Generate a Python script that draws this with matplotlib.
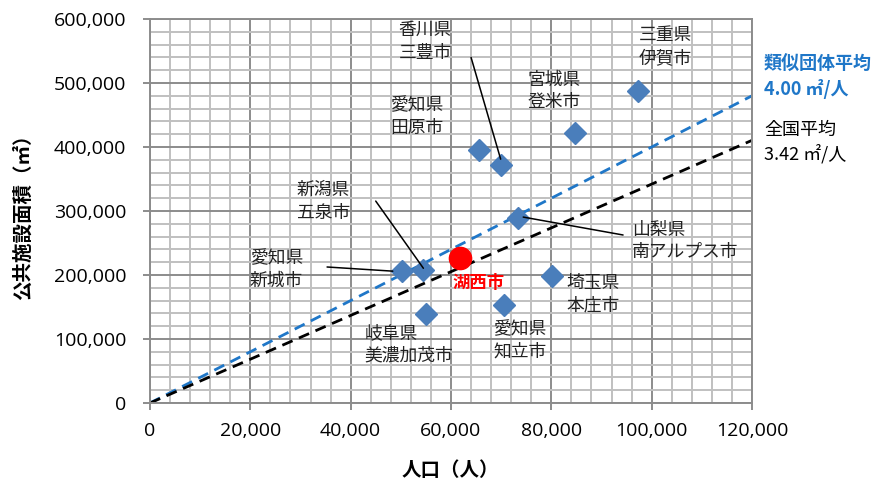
import numpy as np
import matplotlib.pyplot as plt
from matplotlib.ticker import MultipleLocator, FuncFormatter

plt.rcParams['font.family'] = ['Noto Sans CJK JP', 'DejaVu Sans']

# 人口, 公共施設面積
cities = ['新城市', '五泉市', '美濃加茂市', '南アルプス市', '本庄市', '知立市',
          '田原市', '三豊市', '登米市', '伊賀市']
pop = [50200, 54500, 55100, 73400, 80200, 70600, 65600, 69900, 84700, 97300]
area = [207000, 207500, 138500, 288500, 198500, 153000, 395000, 372000, 422000, 487500]

kosai_pop = 61800
kosai_area = 226000

ruiji_avg = 4.00
zenkoku_avg = 3.42
x_max = 120000

fig = plt.figure(figsize=(8.78, 4.82), dpi=100)
ax = fig.add_axes([0.1708, 0.1639, 0.6857, 0.7967])

ax.set_xlim(0, x_max)
ax.set_ylim(0, 600000)
ax.xaxis.set_major_locator(MultipleLocator(20000))
ax.xaxis.set_minor_locator(MultipleLocator(4000))
ax.yaxis.set_major_locator(MultipleLocator(100000))
ax.yaxis.set_minor_locator(MultipleLocator(20000))
fmt = FuncFormatter(lambda v, p: f'{int(v):,}')
ax.xaxis.set_major_formatter(fmt)
ax.yaxis.set_major_formatter(fmt)
ax.grid(which='minor', color='#c0c0c0', lw=1.4, zorder=0)
ax.grid(which='major', color='#8c8c8c', lw=1.4, zorder=0)
ax.set_axisbelow(True)
ax.tick_params(which='minor', length=0)
ax.tick_params(which='major', length=5, width=1.4, color='#8c8c8c', labelsize=14)
ax.tick_params(axis='x', pad=9)
ax.tick_params(axis='y', pad=12)
for t in ax.get_xticklabels() + ax.get_yticklabels():
    t.set_family('Open Sans')
for s in ax.spines.values():
    s.set_color('#8c8c8c')
    s.set_linewidth(1.4)

xs = np.array([0, x_max])
ax.plot(xs, ruiji_avg * xs, color='#1f77c8', ls=(0, (4, 2.5)), lw=2, zorder=2)
ax.plot(xs, zenkoku_avg * xs, color='black', ls=(0, (4, 2.5)), lw=2, zorder=2)

ax.plot(pop, area, ls='none', marker='D', ms=11.5, color='#4a7ebb', zorder=3)
ax.plot([kosai_pop], [kosai_area], ls='none', marker='o', ms=16, color='red', zorder=4)

# leader lines
lead = dict(arrowstyle='-', color='black', lw=1.1, shrinkA=0, shrinkB=0)
ax.annotate('', xy=(pop[7], area[7] + 9000), xytext=(64000, 540000), arrowprops=lead)
ax.annotate('', xy=(pop[1], area[1] + 3000), xytext=(45000, 315500), arrowprops=lead)
ax.annotate('', xy=(pop[0] - 1800, area[0] - 1000), xytext=(35300, 212500), arrowprops=lead)
ax.annotate('', xy=(pop[3] + 1000, area[3] + 2000), xytext=(94300, 262500), arrowprops=lead)

lab = dict(fontsize=12.8, ha='left', va='center', linespacing=1.32, color='#222222')
ax.text(49600, 565000, '香川県\n三豊市', **lab)
ax.text(75300, 488000, '宮城県\n登米市', **lab)
ax.text(97500, 557000, '三重県\n伊賀市', **lab)
ax.text(47800, 448000, '愛知県\n田原市', **lab)
ax.text(29300, 315000, '新潟県\n五泉市', **lab)
ax.text(19900, 209000, '愛知県\n新城市', **lab)
ax.text(42700, 92000, '岐阜県\n美濃加茂市', **lab)
ax.text(68400, 98500, '愛知県\n知立市', **lab)
ax.text(83100, 170500, '埼玉県\n本庄市', **lab)
ax.text(96100, 253000, '山梨県\n南アルプス市', **lab)
ax.text(60200, 188000, '湖西市', fontsize=12.5, ha='left', va='center',
        color='red', fontweight='bold')

fig.text(0.870, 0.840, '類似団体平均\n4.00 ㎡/人', fontsize=13, color='#1f77c8',
         fontweight='bold', ha='left', va='center', linespacing=1.3)
fig.text(0.870, 0.705, '全国平均\n3.42 ㎡/人', fontsize=13, color='black',
         ha='left', va='center', linespacing=1.3)

fig.text(0.513, 0.023, '人口（人）', fontsize=14, fontweight='bold',
         ha='center', va='center')
fig.text(0.026, 0.56, '公共施設面積（㎡）', fontsize=14, fontweight='bold',
         ha='center', va='center', rotation=90)

fig.savefig('out.png', dpi=100)
